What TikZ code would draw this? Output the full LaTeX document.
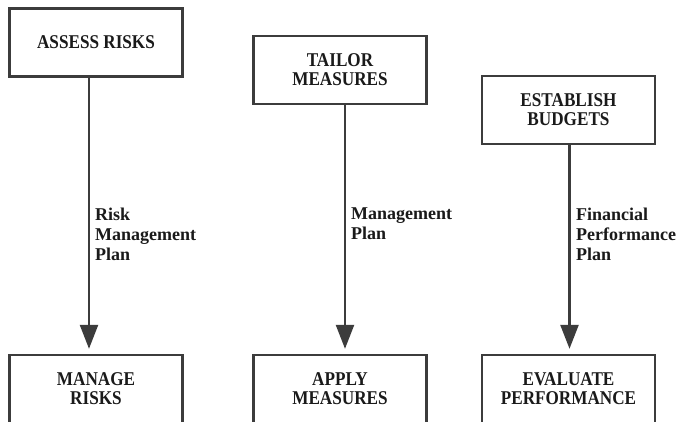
\documentclass[tikz,border=0pt]{standalone}
\usepackage{fontspec}
\setmainfont{Liberation Serif}
\newfontfamily\boxfont[FakeStretch=0.88]{Liberation Serif}
\usetikzlibrary{arrows.meta}
\definecolor{edge}{HTML}{3C3C3C}
\definecolor{ink}{HTML}{1A1A1A}
\tikzset{
  stepbox/.style={draw=edge, line width=2.4pt, fill=white, minimum width=173pt, minimum height=68pt,
    inner sep=0pt, align=center, text=ink, font=\boxfont\bfseries\fontsize{19.5}{19}\selectfont},
  lbl/.style={inner sep=0pt, align=left, text=ink, anchor=north west, font=\bfseries\fontsize{18}{20}\selectfont},
  arr/.style={draw=edge, line width=2.4pt, -{Triangle[length=24pt,width=18pt]}, shorten >=5pt}
}
\begin{document}
\begin{tikzpicture}[x=1pt,y=-1pt]
\clip (0,0) rectangle (678,422);
\fill[white] (0,0) rectangle (678,422);
\node[stepbox] (a1) at (96,42.5) {ASSESS RISKS};
\node[stepbox] (a2) at (340,70) {TAILOR\\MEASURES};
\node[stepbox] (a3) at (568.5,110) {ESTABLISH\\BUDGETS};
\node[stepbox] (m1) at (96,389) {MANAGE\\RISKS};
\node[stepbox] (m2) at (340,389) {APPLY\\MEASURES};
\node[stepbox] (m3) at (568.5,389) {EVALUATE\\PERFORMANCE};
\draw[arr] ([xshift=-7pt]a1.south) -- ([xshift=-7pt]m1.north);
\draw[arr] ([xshift=5pt]a2.south) -- ([xshift=5pt]m2.north);
\draw[arr] ([xshift=1pt]a3.south) -- ([xshift=1pt]m3.north);
\node[lbl] (l1) at (95,208) {Risk\\Management\\Plan};
\node[lbl] (l2) at (351,208) {Management\\Plan};
\node[lbl] (l3) at (576,208) {Financial\\Performance\\Plan};
\end{tikzpicture}
\end{document}
